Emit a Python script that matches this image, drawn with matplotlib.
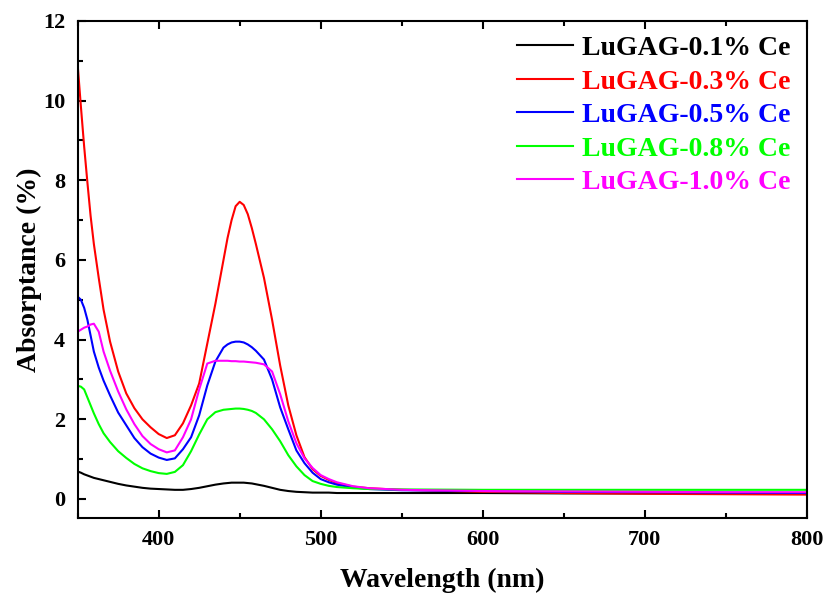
import numpy as np
import matplotlib
matplotlib.use('Agg')
import matplotlib.pyplot as plt
from matplotlib.ticker import MultipleLocator

# Wavelength grid (nm) and absorptance (%)
wl = [350, 352, 354, 356, 358, 360, 363, 366, 370, 375, 380, 385, 390, 395,
      400, 405, 410, 415, 420, 425, 430, 435, 440, 442.5, 445, 447.5, 450,
      452.5, 455, 457.5, 460, 465, 470, 475, 480, 485, 490, 495, 500, 505,
      510, 520, 530, 550, 600, 650, 700, 750, 800]

ce01 = [0.69, 0.66, 0.62, 0.59, 0.56, 0.53, 0.50, 0.47, 0.43, 0.38, 0.34, 0.31,
        0.28, 0.26, 0.25, 0.24, 0.23, 0.23, 0.25, 0.28, 0.32, 0.36, 0.39, 0.40,
        0.41, 0.41, 0.41, 0.41, 0.40, 0.39, 0.37, 0.33, 0.28, 0.23, 0.20, 0.18,
        0.17, 0.16, 0.16, 0.16, 0.15, 0.15, 0.15, 0.15, 0.15, 0.14, 0.14, 0.14,
        0.13]

ce03 = [10.9, 9.85, 8.85, 7.95, 7.1, 6.4, 5.55, 4.75, 3.95, 3.2, 2.65, 2.28,
        2.0, 1.8, 1.63, 1.53, 1.6, 1.9, 2.35, 2.9, 3.9, 4.9, 6.0, 6.55,
        7.0, 7.35, 7.46, 7.38, 7.15, 6.8, 6.4, 5.55, 4.5, 3.35, 2.35, 1.6,
        1.05, 0.75, 0.58, 0.48, 0.40, 0.31, 0.27, 0.23, 0.18, 0.15, 0.13, 0.12,
        0.11]

ce05 = [5.08, 5.0, 4.8, 4.5, 4.1, 3.7, 3.3, 2.97, 2.6, 2.17, 1.85, 1.53,
        1.3, 1.14, 1.04, 0.98, 1.02, 1.25, 1.55, 2.1, 2.85, 3.45, 3.8, 3.88,
        3.93, 3.95, 3.95, 3.93, 3.88, 3.81, 3.72, 3.5, 3.0, 2.3, 1.75, 1.22,
        0.9, 0.66, 0.5, 0.42, 0.36, 0.29, 0.25, 0.22, 0.20, 0.18, 0.17, 0.16,
        0.15]

ce08 = [2.84, 2.82, 2.75, 2.55, 2.35, 2.15, 1.88, 1.65, 1.43, 1.2, 1.03, 0.88,
        0.77, 0.70, 0.65, 0.63, 0.68, 0.85, 1.2, 1.62, 2.0, 2.18, 2.24, 2.25,
        2.26, 2.27, 2.27, 2.26, 2.24, 2.21, 2.16, 2.0, 1.75, 1.45, 1.1, 0.82,
        0.6, 0.45, 0.38, 0.33, 0.30, 0.27, 0.25, 0.24, 0.23, 0.23, 0.23, 0.23,
        0.23]

ce10 = [4.2, 4.25, 4.3, 4.33, 4.38, 4.4, 4.2, 3.7, 3.22, 2.7, 2.25, 1.88,
        1.58, 1.38, 1.25, 1.17, 1.22, 1.55, 2.0, 2.75, 3.4, 3.47, 3.47, 3.47,
        3.46, 3.46, 3.45, 3.45, 3.44, 3.43, 3.42, 3.38, 3.2, 2.63, 1.95, 1.4,
        1.02, 0.78, 0.6, 0.5, 0.42, 0.32, 0.27, 0.23, 0.20, 0.19, 0.18, 0.17,
        0.17]

labels = ['LuGAG-0.1% Ce', 'LuGAG-0.3% Ce', 'LuGAG-0.5% Ce',
          'LuGAG-0.8% Ce', 'LuGAG-1.0% Ce']
colors = ['#000000', '#ff0000', '#0000ff', '#00ff00', '#ff00ff']
series = [ce01, ce03, ce05, ce08, ce10]

plt.rcParams['font.family'] = ['Liberation Serif', 'DejaVu Serif']
plt.rcParams['font.weight'] = 'bold'

fig = plt.figure(figsize=(8.28, 5.99), dpi=100)
ax = fig.add_axes([0.0938, 0.1357, 0.8805, 0.8293])

for y, c, lab in zip(series, colors, labels):
    ax.plot(wl, y, color=c, lw=1.5, label=lab, solid_joinstyle='round')

ax.set_xlim(350, 800)
ax.set_ylim(-0.47, 12)
ax.xaxis.set_major_locator(MultipleLocator(100))
ax.xaxis.set_minor_locator(MultipleLocator(50))
ax.yaxis.set_major_locator(MultipleLocator(2))
ax.yaxis.set_minor_locator(MultipleLocator(1))
ax.set_xticks([400, 500, 600, 700, 800])

ax.tick_params(which='major', direction='in', length=6, width=1.5,
               labelsize=16, pad=9)
ax.tick_params(which='minor', direction='in', length=3.5, width=1.5)
ax.tick_params(which='both', top=True, right=False)
for lab in ax.get_xticklabels() + ax.get_yticklabels():
    lab.set_fontweight('bold')
for s in ax.spines.values():
    s.set_linewidth(1.5)

ax.set_xlabel('Wavelength (nm)', fontsize=20, fontweight='bold', labelpad=13)
ax.set_ylabel('Absorptance (%)', fontsize=20, fontweight='bold', labelpad=1)

leg = ax.legend(loc='upper right', bbox_to_anchor=(1.001, 1.004), frameon=False,
                fontsize=20, labelcolor='linecolor', handlelength=2.0,
                handletextpad=0.35, labelspacing=0.29, borderaxespad=0.2)
for t in leg.get_texts():
    t.set_fontweight('bold')

fig.savefig('out.png', dpi=100)
plt.close()
